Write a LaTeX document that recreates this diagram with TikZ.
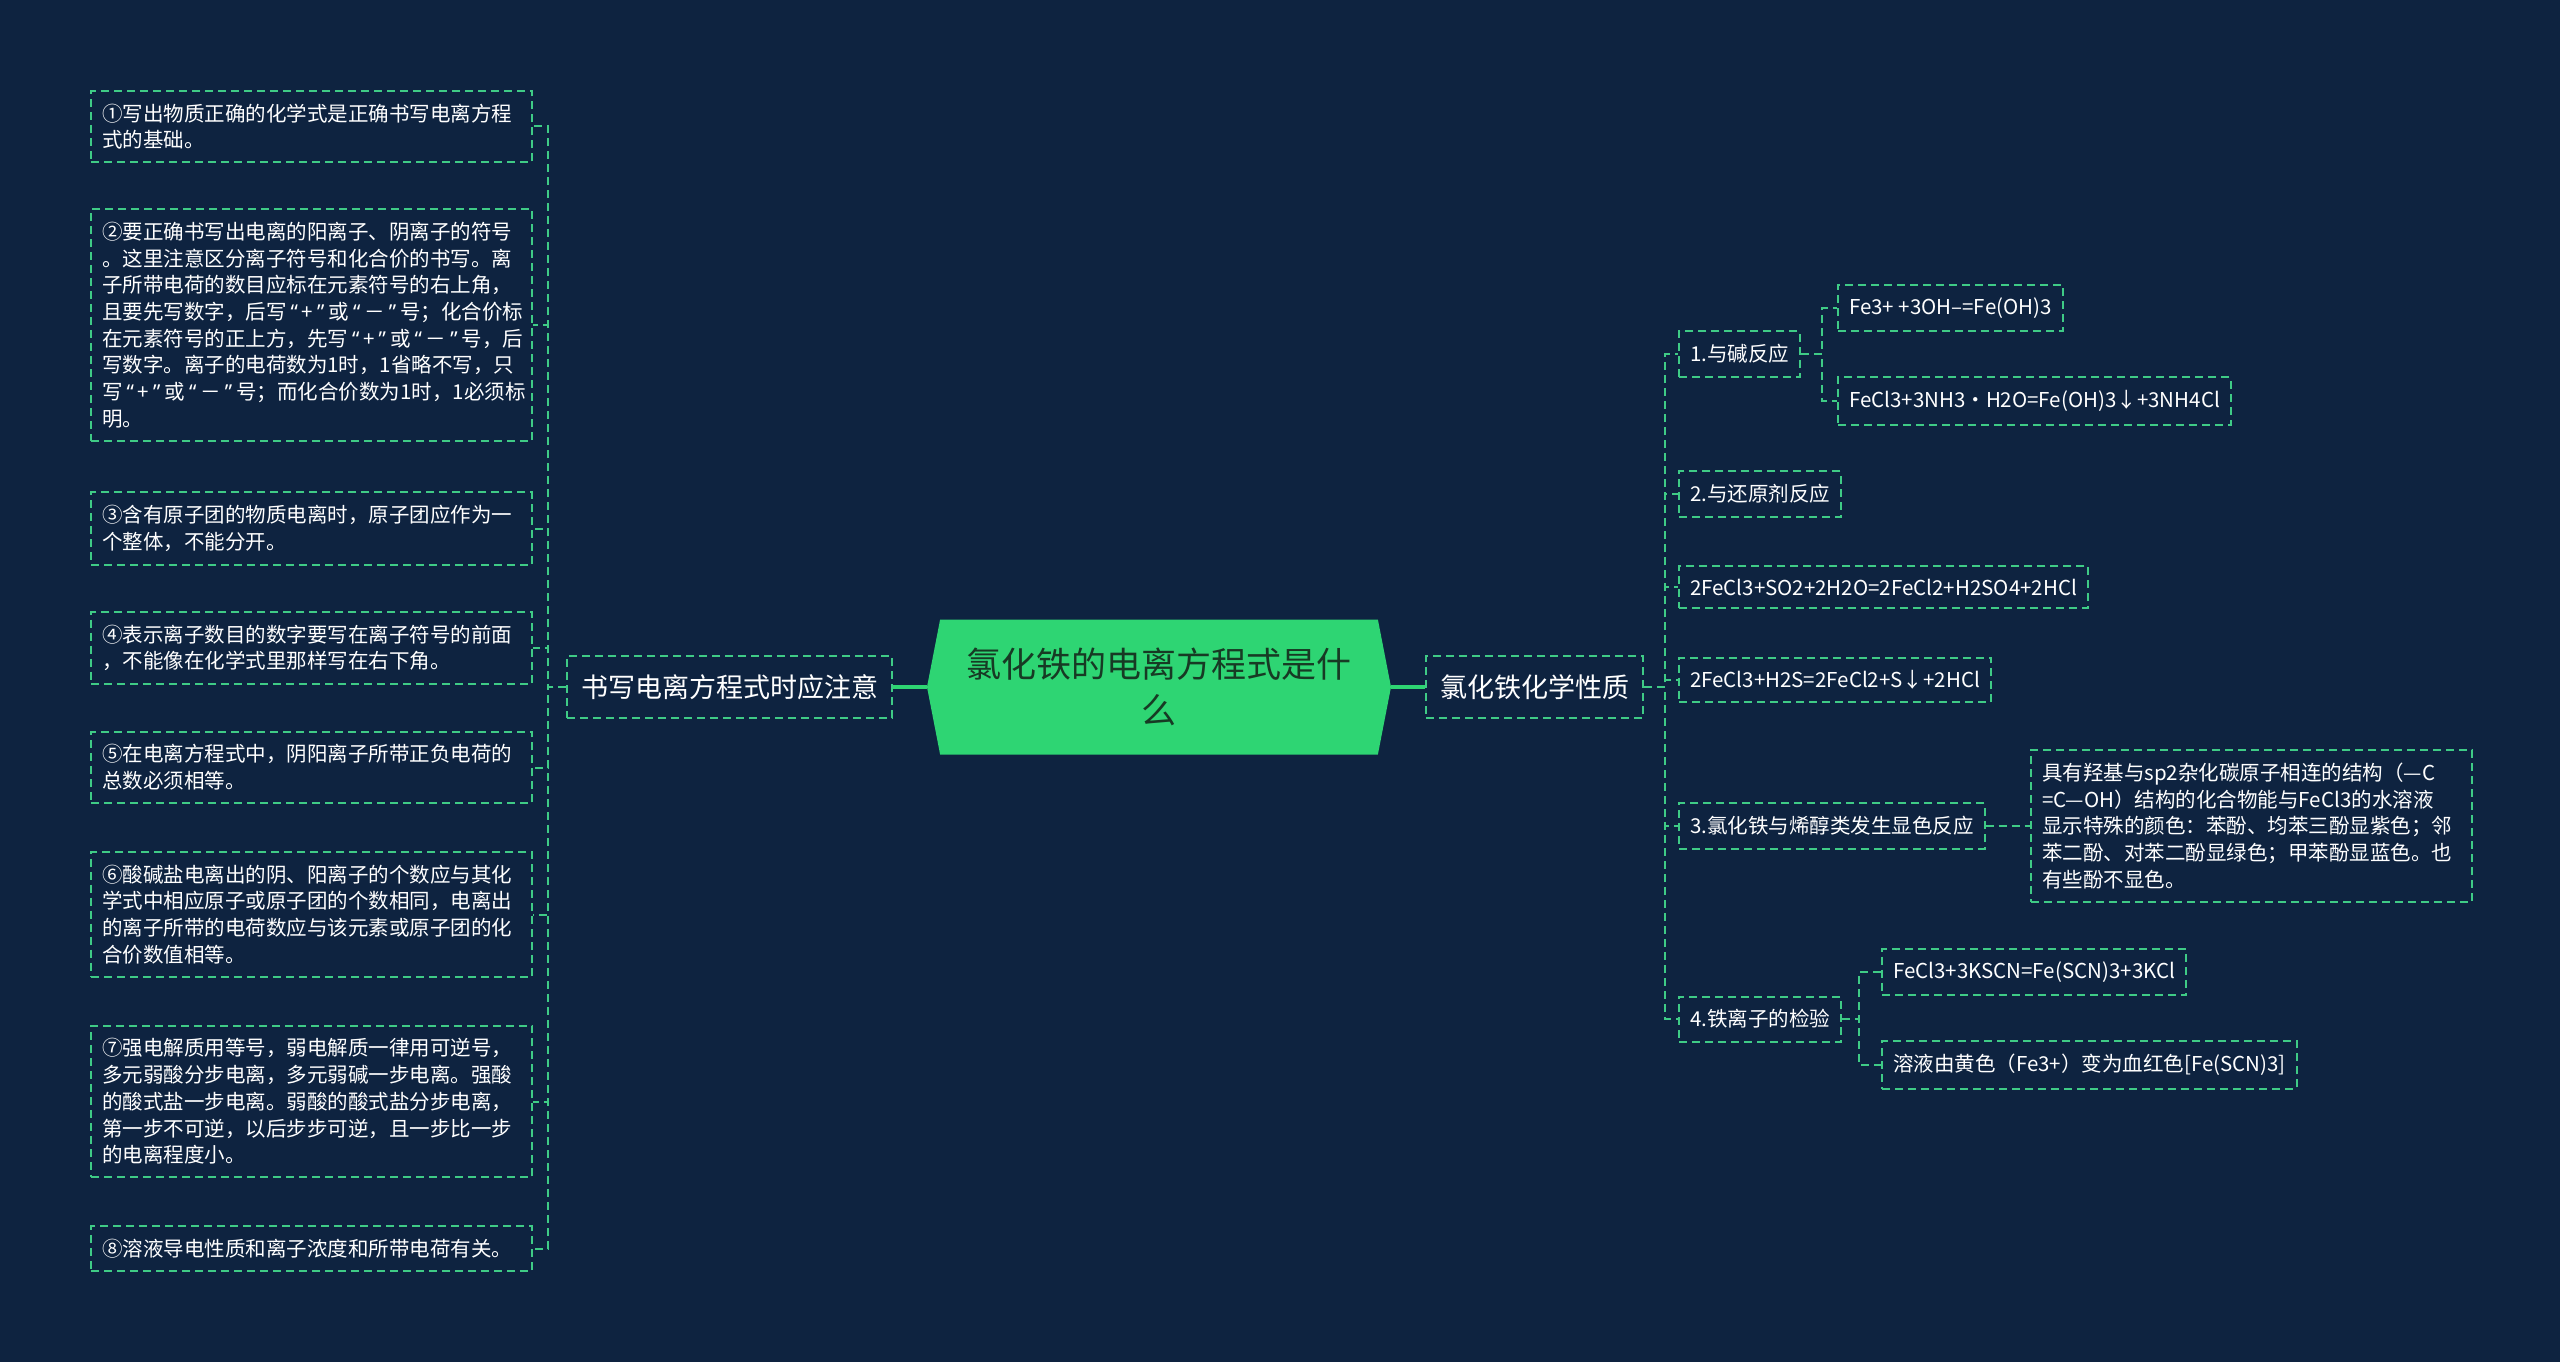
\documentclass[tikz,border=0pt]{standalone}
\usepackage{fontspec}
\setmainfont{Noto Sans CJK SC}
\newfontfamily\quotefont{Noto Sans}
\usetikzlibrary{shapes.symbols}

\definecolor{bgnavy}{HTML}{0E2340}
\definecolor{rootgreen}{HTML}{2ED573}
\definecolor{dashgreen}{HTML}{3FCB86}
\definecolor{roottext}{HTML}{173A24}

% quoted sign, spaced as in the source picture
\newcommand{\qsign}[1]{\mbox{\kern4pt{\quotefont “}\kern4pt#1\kern4pt{\quotefont ”}\kern4pt}}

\tikzset{
  rootnode/.style={signal, signal to=west and east, signal pointer angle=158,
    fill=rootgreen, text=roottext, font=\fontsize{35pt}{46pt}\selectfont,
    align=center, text width=400pt, minimum width=464pt, minimum height=135pt, inner sep=0pt},
  topicnode/.style={draw=dashgreen, dash pattern=on 8pt off 5pt, line width=2pt, text=white,
    font=\fontsize{27pt}{35pt}\selectfont, inner xsep=14pt, inner ysep=13pt, minimum height=62pt},
  leafnode/.style={draw=dashgreen, dash pattern=on 8pt off 5pt, line width=2pt, text=white,
    font=\fontsize{20.5pt}{26.7pt}\selectfont, inner xsep=11pt, inner ysep=13pt, align=left},
  note/.style={leafnode, text width=419pt},
  link/.style={draw=dashgreen, dash pattern=on 8pt off 5pt, line width=2pt},
  trunk/.style={draw=rootgreen, line width=4pt},
}

\begin{document}
\begin{tikzpicture}[x=1pt, y=-1pt]
    % background and page size
    \fill[bgnavy] (0,0) rectangle (2560,1362);
    \useasboundingbox (0,0) rectangle (2560,1362);

    % centre and the two main topics
    \node[rootnode] (root) at (1159,687) {氯化铁的电离方程式是什\\么};
    \node[topicnode, anchor=east] (rules) at (893,687) {书写电离方程式时应注意};
    \node[topicnode, anchor=west] (props) at (1425,687) {氯化铁化学性质};

    % left side: notes
    \node[note, anchor=west] (n1) at (90,126.5) {①写出物质正确的化学式是正确书写电离方程\\式的基础。};
    \node[note, anchor=west] (n2) at (90,325) {②要正确书写出电离的阳离子、阴离子的符号\\。这里注意区分离子符号和化合价的书写。离\\子所带电荷的数目应标在元素符号的右上角，\\且要先写数字，后写\qsign{+}或\qsign{－}号；化合价标\\在元素符号的正上方，先写\qsign{+}或\qsign{－}号，后\\写数字。离子的电荷数为1时，1省略不写，只\\写\qsign{+}或\qsign{－}号；而化合价数为1时，1必须标\\明。};
    \node[note, anchor=west] (n3) at (90,528.5) {③含有原子团的物质电离时，原子团应作为一\\个整体，不能分开。};
    \node[note, anchor=west] (n4) at (90,648) {④表示离子数目的数字要写在离子符号的前面\\，不能像在化学式里那样写在右下角。};
    \node[note, anchor=west] (n5) at (90,767.5) {⑤在电离方程式中，阴阳离子所带正负电荷的\\总数必须相等。};
    \node[note, anchor=west] (n6) at (90,914.5) {⑥酸碱盐电离出的阴、阳离子的个数应与其化\\学式中相应原子或原子团的个数相同，电离出\\的离子所带的电荷数应与该元素或原子团的化\\合价数值相等。};
    \node[note, anchor=west] (n7) at (90,1101.5) {⑦强电解质用等号，弱电解质一律用可逆号，\\多元弱酸分步电离，多元弱碱一步电离。强酸\\的酸式盐一步电离。弱酸的酸式盐分步电离，\\第一步不可逆，以后步步可逆，且一步比一步\\的电离程度小。};
    \node[note, anchor=west] (n8) at (90,1248.5) {⑧溶液导电性质和离子浓度和所带电荷有关。};

    % right side: properties
    \node[leafnode, anchor=west] (p1) at (1678,354) {1.与碱反应};
    \node[leafnode, anchor=west] (p2) at (1678,494) {2.与还原剂反应};
    \node[leafnode, anchor=west] (p3) at (1678,587) {2FeCl3+SO2+2H2O=2FeCl2+H2SO4+2HCl};
    \node[leafnode, anchor=west] (p4) at (1678,680) {2FeCl3+H2S=2FeCl2+S↓+2HCl};
    \node[leafnode, anchor=west] (p5) at (1678,826) {3.氯化铁与烯醇类发生显色反应};
    \node[leafnode, anchor=west] (p6) at (1678,1019) {4.铁离子的检验};

    \node[leafnode, anchor=west] (q1) at (1837,308) {Fe3+ +3OH–=Fe(OH)3};
    \node[leafnode, anchor=west] (q2) at (1837,401) {FeCl3+3NH3·H2O=Fe(OH)3↓+3NH4Cl};
    \node[note, anchor=west] (q3) at (2030,826) {具有羟基与sp2杂化碳原子相连的结构（—C\\=C—OH）结构的化合物能与FeCl3的水溶液\\显示特殊的颜色：苯酚、均苯三酚显紫色；邻\\苯二酚、对苯二酚显绿色；甲苯酚显蓝色。也\\有些酚不显色。};
    \node[leafnode, anchor=west] (q4) at (1881,972) {FeCl3+3KSCN=Fe(SCN)3+3KCl};
    \node[leafnode, anchor=west] (q5) at (1881,1065) {溶液由黄色（Fe3+）变为血红色[Fe(SCN)3]};

    % connectors
    \draw[trunk] (root.west) -- (rules.east);
    \draw[trunk] (root.east) -- (props.west);
    \foreach \i in {1,...,8}
      \draw[link] (rules.west) -- ++(-18,0) |- (n\i.east);
    \foreach \i in {1,...,6}
      \draw[link] (props.east) -- ++(21,0) |- (p\i.west);
    \foreach \i in {1,2}
      \draw[link] (p1.east) -- ++(21,0) |- (q\i.west);
    \draw[link] (p5.east) -- (q3.west);
    \foreach \i in {4,5}
      \draw[link] (p6.east) -- ++(17,0) |- (q\i.west);

  \end{tikzpicture}
\end{document}
